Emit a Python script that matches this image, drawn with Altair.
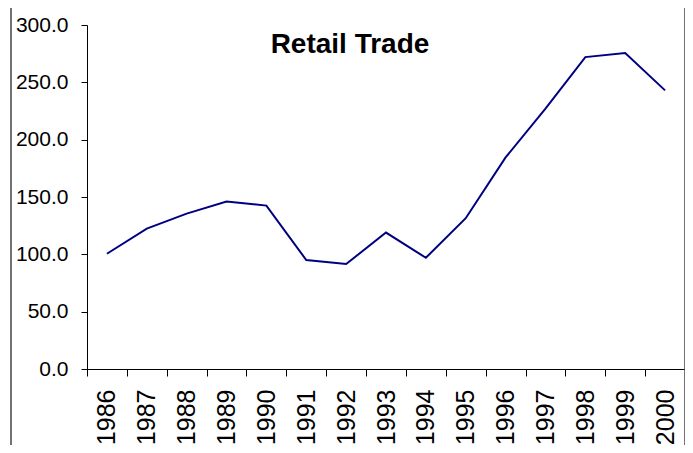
import altair as alt
import pandas as pd

years = ["1986", "1987", "1988", "1989", "1990", "1991", "1992", "1993",
         "1994", "1995", "1996", "1997", "1998", "1999", "2000"]
values = [100.5, 122.5, 135.5, 146.0, 142.5, 95.0, 91.5, 119.0,
          97.0, 131.5, 184.5, 227.0, 272.0, 275.5, 243.0]
y_ticks = [0, 50, 100, 150, 200, 250, 300]
title_text = ["Retail Trade"]

W, H = 598, 344
FONT = "Liberation Sans"

df = pd.DataFrame({"year": years, "value": values})
tdf = pd.DataFrame({"t": title_text})

line = alt.Chart(df).mark_line(color="#000080", strokeWidth=2).encode(
    x=alt.X("year:O", sort=years, bandPosition=0.5,
            scale=alt.Scale(type="band", paddingInner=0, paddingOuter=0),
            axis=alt.Axis(title=None, labelAngle=270, labelAlign="right",
                          labelBaseline="middle", labelFontSize=25,
                          labelFont=FONT, labelColor="black",
                          tickColor="black", domainColor="black",
                          tickSize=7, labelPadding=13, tickBand="extent",
                          grid=False)),
    y=alt.Y("value:Q", scale=alt.Scale(domain=[0, 300], nice=False),
            axis=alt.Axis(title=None, values=y_ticks, format=".1f",
                          labelFontSize=21, labelFont=FONT,
                          labelColor="black", tickColor="black",
                          domainColor="black", tickSize=6,
                          labelPadding=13, grid=False)),
)

title_mark = alt.Chart(tdf).mark_text(
    font=FONT, fontSize=28, fontWeight="bold", color="black",
    align="center", baseline="alphabetic"
).encode(text="t:N", x=alt.value(263), y=alt.value(28))

frame_left = alt.Chart(tdf).mark_rule(color="#444444", strokeWidth=1.5).encode(
    x=alt.value(-76), y=alt.value(-17), y2=alt.value(H + 76))
frame_right = alt.Chart(tdf).mark_rule(color="#444444", strokeWidth=1.5).encode(
    x=alt.value(W), y=alt.value(-17), y2=alt.value(H + 76))

chart = alt.layer(line, title_mark, frame_left, frame_right).properties(
    width=W, height=H,
    padding={"left": 79, "top": 17, "right": 0, "bottom": 76},
    autosize=alt.AutoSizeParams(type="none"),
).configure_view(stroke=None)

chart.save("out.html", embed_options={"renderer": "svg", "actions": False})
